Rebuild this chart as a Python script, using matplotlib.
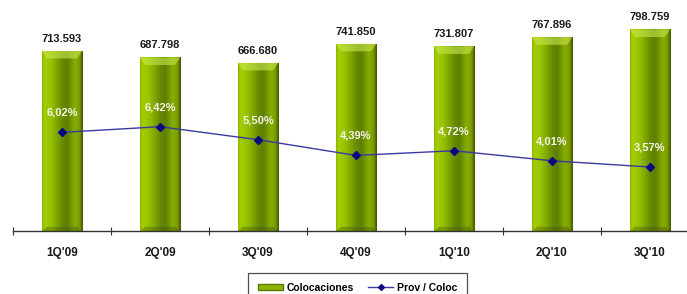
import numpy as np
import matplotlib
matplotlib.use('Agg')
import matplotlib.pyplot as plt
from matplotlib.colors import LinearSegmentedColormap
from matplotlib.patches import Patch, Polygon
from matplotlib.lines import Line2D

# données
trimestres = ["1Q'09", "2Q'09", "3Q'09", "4Q'09", "1Q'10", "2Q'10", "3Q'10"]
colocaciones = [713.593, 687.798, 666.680, 741.850, 731.807, 767.896, 798.759]
prov_coloc = [6.02, 6.42, 5.50, 4.39, 4.72, 4.01, 3.57]

plt.rcParams['font.family'] = ['Liberation Sans', 'DejaVu Sans']

W, H = 687, 294
fig = plt.figure(figsize=(W / 100, H / 100), dpi=100)
ax = fig.add_axes([13 / W, (H - 231.3) / H, (699 - 13) / W, 231.3 / H])

x = np.arange(len(trimestres))
larg = 0.41
ax.set_xlim(-0.5, len(trimestres) - 0.5)
ax.set_ylim(0, 915)

# dégradé "cylindre" pour les barres
cmap = LinearSegmentedColormap.from_list('cyl', [
    (0.00, '#86ad00'), (0.05, '#a4d000'), (0.22, '#98c200'),
    (0.50, '#688a00'), (0.62, '#5f7f00'), (0.80, '#88ad00'),
    (0.92, '#7a9c00'), (1.00, '#3e5000')])
grad = np.linspace(0, 1, 256).reshape(1, -1)

barres = ax.bar(x, colocaciones, width=larg, color='none', edgecolor='none', zorder=2)
for b in barres:
    x0, y0 = b.get_x(), b.get_y()
    w, h = b.get_width(), b.get_height()
    im = ax.imshow(grad, cmap=cmap, aspect='auto', extent=(x0, x0 + w, y0, y0 + h),
                   zorder=2, interpolation='bicubic')
    im.set_clip_path(b)
    # biseau du haut
    e = 0.05
    dh = 30
    haut = Polygon([(x0, y0 + h), (x0 + w, y0 + h), (x0 + w - e, y0 + h - dh),
                    (x0 + e, y0 + h - dh)], closed=True, facecolor='#c8e850',
                   edgecolor='none', alpha=0.6, zorder=3)
    ax.add_patch(haut)
    bas = Polygon([(x0, y0), (x0 + w, y0), (x0 + w - e, y0 + 18), (x0 + e, y0 + 18)],
                  closed=True, facecolor='#3e5000', edgecolor='none', alpha=0.35, zorder=3)
    ax.add_patch(bas)
    ax.annotate(f'{h:.3f}', (x0 + w / 2, y0 + h), xytext=(0, 8.6), textcoords='offset points',
                ha='center', va='center', fontsize=8, fontweight='bold', color='#1a1a1a')

ax.set_xlim(-0.5, len(trimestres) - 0.5)
ax.set_ylim(0, 915)

# axe secondaire pour le ratio
ax2 = ax.twinx()
ax2.set_ylim(-0.976, 15.38)
ax2.plot(x, prov_coloc, color='#3a3aa0', lw=1.0, marker='D', markersize=4,
         markerfacecolor='#0a0a80', markeredgecolor='#0a0a80', zorder=4)
for xi, v in zip(x, prov_coloc):
    ax2.annotate(f'{v:.2f}%'.replace('.', ','), (xi, v), xytext=(0, 14),
                 textcoords='offset points', ha='center', va='center',
                 fontsize=8, fontweight='bold', color='#f4f4e8', zorder=5)

for a in (ax, ax2):
    for s in ('top', 'right', 'left'):
        a.spines[s].set_visible(False)
    a.set_yticks([])
ax2.spines['bottom'].set_visible(False)
ax.spines['bottom'].set_color('#333333')
ax.spines['bottom'].set_linewidth(1.0)

ax.set_xticks(x)
ax.set_xticklabels(trimestres, fontsize=8.5, fontweight='bold', color='#1a1a1a')
ax.tick_params(axis='x', which='major', length=0, pad=11)
ax.set_xticks(np.arange(-0.5, len(trimestres)), minor=True)
ax.tick_params(axis='x', which='minor', direction='inout', length=5.5, width=0.8, color='#333333')

handles = [Patch(facecolor='#8fb400', edgecolor='#5c7a00', label='Colocaciones'),
           Line2D([], [], color='#3a3aa0', lw=1.0, marker='D', markersize=3,
                  markerfacecolor='#0a0a80', markeredgecolor='#0a0a80', label='Prov / Coloc')]
leg = fig.legend(handles=handles, loc='upper left', bbox_to_anchor=(248.3 / W, 1 - 273.3 / H),
                 ncol=2, frameon=True, fancybox=False, borderaxespad=0,
                 handlelength=2.4, handleheight=0.5, handletextpad=0.35, columnspacing=1.4,
                 borderpad=0.9, prop={'weight': 'bold', 'size': 7.5})
leg.get_frame().set_edgecolor('#222222')
leg.get_frame().set_linewidth(0.9)

fig.savefig('out.png', dpi=100)
